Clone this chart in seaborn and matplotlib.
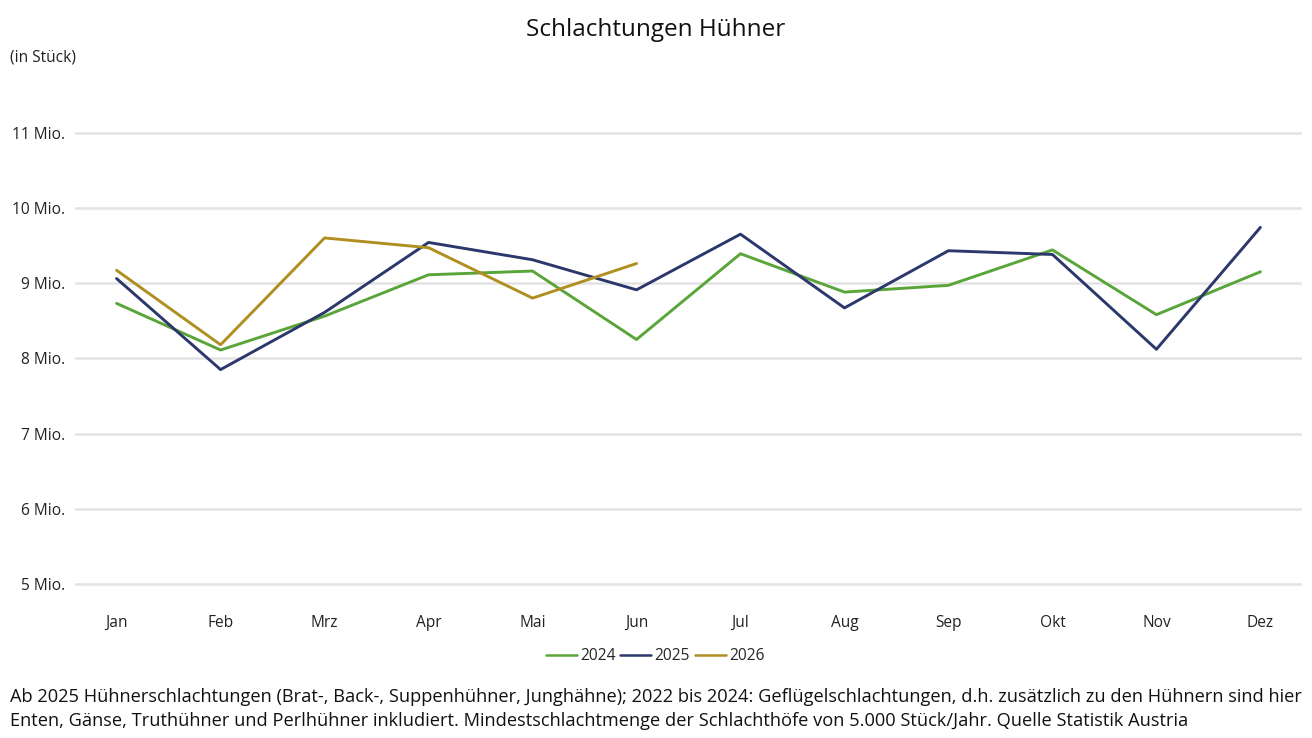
import seaborn as sns
import numpy as np
import pandas as pd
import matplotlib.pyplot as plt

months = ['Jan', 'Feb', 'Mrz', 'Apr', 'Mai', 'Jun', 'Jul', 'Aug', 'Sep', 'Okt', 'Nov', 'Dez']
# values in Mio. Stück
v2024 = [8.73, 8.11, 8.56, 9.11, 9.16, 8.25, 9.39, 8.88, 8.97, 9.44, 8.58, 9.15]
v2025 = [9.06, 7.85, 8.61, 9.54, 9.31, 8.91, 9.65, 8.67, 9.43, 9.38, 8.12, 9.74]
v2026 = [9.17, 8.18, 9.60, 9.47, 8.80, 9.26]
y_ticks = [5, 6, 7, 8, 9, 10, 11]

rows = []
for year, vals in [('2024', v2024), ('2025', v2025), ('2026', v2026)]:
    for i, v in enumerate(vals):
        rows.append({'Monat': i, 'Wert': v, 'Jahr': year})
df = pd.DataFrame(rows)

sns.set_style('white')
plt.rcParams['font.family'] = ['Open Sans', 'DejaVu Sans']

fig = plt.figure(figsize=(13.12, 7.38), dpi=100)
ax = fig.add_axes([75/1312, 1 - 600/738, (1302-75)/1312, (600-95)/738])

palette = {'2024': '#5AA53A', '2025': '#2C386B', '2026': '#B08F21'}
sns.lineplot(data=df, x='Monat', y='Wert', hue='Jahr', palette=palette,
             linewidth=2.1, ax=ax, legend=False)

ax.set_xlim(-0.4, 11.4)
ax.set_ylim(4.787, 11.5)
ax.set_xticks(range(12))
ax.set_xticklabels(months, fontsize=11.2, color='#222222')
ax.set_yticks(y_ticks)
ax.set_yticklabels([f'{t} Mio.' for t in y_ticks], fontsize=11.2, color='#222222')
ax.tick_params(axis='x', length=0, pad=11)
ax.tick_params(axis='y', length=0, pad=7)
ax.yaxis.grid(True, color='#E3E3E3', linewidth=1.8)
ax.set_axisbelow(True)
sns.despine(ax=ax, left=True, bottom=True)
ax.set_xlabel('')
ax.set_ylabel('')

# legend
handles = [plt.Line2D([], [], color=palette[y], linewidth=1.8) for y in ['2024', '2025', '2026']]
fig.legend(handles, ['2024', '2025', '2026'], loc='center', bbox_to_anchor=(655/1312, 1 - 656/738),
           ncol=3, frameon=False, fontsize=11.2, handlelength=2.0, handletextpad=0.2,
           columnspacing=0.3)

fig.text(656/1312, 1 - 30/738, 'Schlachtungen Hühner', ha='center', va='center', fontsize=17.5,
         color='#111111')
fig.text(10/1312, 1 - 57/738, '(in Stück)', ha='left', va='center', fontsize=11.2, color='#222222')
fig.text(10/1312, 1 - 697/738,
         'Ab 2025 Hühnerschlachtungen (Brat-, Back-, Suppenhühner, Junghähne); 2022 bis 2024: Geflügelschlachtungen, d.h. zusätzlich zu den Hühnern sind hier',
         ha='left', va='center', fontsize=13.15, color='#111111')
fig.text(10/1312, 1 - 721/738,
         'Enten, Gänse, Truthühner und Perlhühner inkludiert. Mindestschlachtmenge der Schlachthöfe von 5.000 Stück/Jahr. Quelle Statistik Austria',
         ha='left', va='center', fontsize=13.15, color='#111111')

fig.savefig('out.png', dpi=100)
